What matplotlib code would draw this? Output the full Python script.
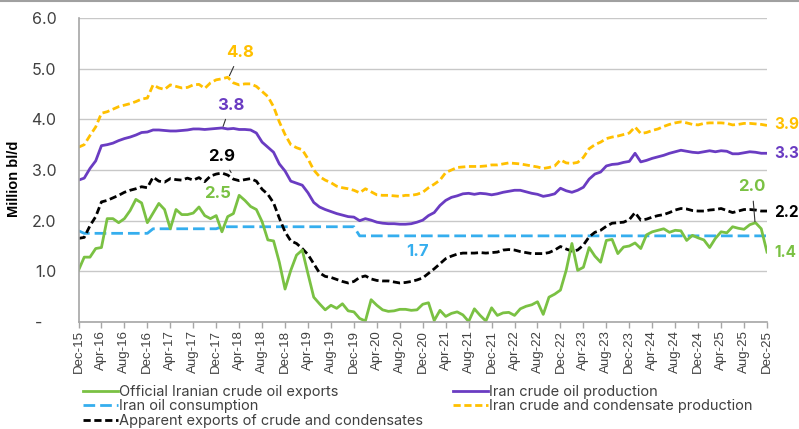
import numpy as np
import matplotlib
matplotlib.use('Agg')
import matplotlib.pyplot as plt
from matplotlib.lines import Line2D

plt.rcParams['font.family'] = ['Liberation Sans', 'DejaVu Sans']
SOFT = ['Inter', 'DejaVu Sans']

# monthly data, Dec-15 .. Dec-25 (million bl/d)
tick_labels = ['Dec-15', 'Apr-16', 'Aug-16', 'Dec-16', 'Apr-17', 'Aug-17', 'Dec-17', 'Apr-18',
               'Aug-18', 'Dec-18', 'Apr-19', 'Aug-19', 'Dec-19', 'Apr-20', 'Aug-20', 'Dec-20',
               'Apr-21', 'Aug-21', 'Dec-21', 'Apr-22', 'Aug-22', 'Dec-22', 'Apr-23', 'Aug-23',
               'Dec-23', 'Apr-24', 'Aug-24', 'Dec-24', 'Apr-25', 'Aug-25', 'Dec-25']

official_exports = [
    1.02, 1.28, 1.28, 1.45, 1.47, 2.04, 2.04, 1.96, 2.04, 2.20, 2.42, 2.35,
    1.96, 2.15, 2.34, 2.22, 1.84, 2.22, 2.12, 2.12, 2.15, 2.27, 2.10, 2.04,
    2.10, 1.78, 2.08, 2.14, 2.50, 2.40, 2.28, 2.22, 1.98, 1.62, 1.60, 1.18,
    0.65, 1.02, 1.32, 1.42, 0.95, 0.49, 0.36, 0.24, 0.33, 0.27, 0.36, 0.22,
    0.20, 0.07, 0.02, 0.44, 0.33, 0.24, 0.21, 0.22, 0.25, 0.25, 0.23, 0.24,
    0.35, 0.38, 0.03, 0.23, 0.11, 0.17, 0.20, 0.14, 0.01, 0.26, 0.13, 0.02,
    0.28, 0.13, 0.18, 0.19, 0.13, 0.26, 0.31, 0.34, 0.40, 0.15, 0.49, 0.55,
    0.63, 1.02, 1.55, 1.02, 1.08, 1.47, 1.30, 1.18, 1.61, 1.63, 1.35, 1.48,
    1.50, 1.56, 1.45, 1.72, 1.78, 1.81, 1.84, 1.77, 1.81, 1.80, 1.61, 1.71,
    1.66, 1.62, 1.47, 1.65, 1.78, 1.76, 1.88, 1.85, 1.83, 1.92, 1.96, 1.84,
    1.38]

crude_prod = [
    2.80, 2.84, 3.03, 3.18, 3.48, 3.50, 3.53, 3.58, 3.62, 3.65, 3.69, 3.74,
    3.75, 3.79, 3.79, 3.78, 3.77, 3.77, 3.78, 3.79, 3.81, 3.81, 3.80, 3.81,
    3.82, 3.83, 3.81, 3.82, 3.80, 3.80, 3.79, 3.73, 3.55, 3.45, 3.35, 3.12,
    2.98, 2.78, 2.74, 2.70, 2.55, 2.36, 2.27, 2.22, 2.18, 2.14, 2.11, 2.08,
    2.07, 2.00, 2.04, 2.01, 1.97, 1.95, 1.94, 1.94, 1.93, 1.93, 1.94, 1.97,
    2.01, 2.10, 2.16, 2.30, 2.40, 2.46, 2.49, 2.53, 2.54, 2.52, 2.54, 2.53,
    2.51, 2.53, 2.56, 2.58, 2.60, 2.60, 2.57, 2.54, 2.52, 2.48, 2.50, 2.53,
    2.64, 2.59, 2.56, 2.60, 2.66, 2.82, 2.92, 2.96, 3.08, 3.11, 3.12, 3.15,
    3.17, 3.33, 3.16, 3.19, 3.23, 3.26, 3.29, 3.33, 3.36, 3.39, 3.37, 3.35,
    3.34, 3.36, 3.38, 3.36, 3.38, 3.37, 3.32, 3.32, 3.34, 3.36, 3.35, 3.33,
    3.33]

consumption = [
    1.80, 1.75, 1.75, 1.75, 1.75, 1.75, 1.75, 1.75, 1.75, 1.75, 1.75, 1.75,
    1.75, 1.84, 1.84, 1.84, 1.84, 1.84, 1.84, 1.84, 1.84, 1.84, 1.84, 1.84,
    1.84, 1.88, 1.88, 1.88, 1.88, 1.88, 1.88, 1.88, 1.88, 1.88, 1.88, 1.88,
    1.88, 1.88, 1.88, 1.88, 1.88, 1.88, 1.88, 1.88, 1.88, 1.88, 1.88, 1.88,
    1.88, 1.70, 1.70, 1.70, 1.70, 1.70, 1.70, 1.70, 1.70, 1.70, 1.70, 1.70,
    1.70, 1.70, 1.70, 1.70, 1.70, 1.70, 1.70, 1.70, 1.70, 1.70, 1.70, 1.70,
    1.70, 1.70, 1.70, 1.70, 1.70, 1.70, 1.70, 1.70, 1.70, 1.70, 1.70, 1.70,
    1.70, 1.70, 1.70, 1.70, 1.70, 1.70, 1.70, 1.70, 1.70, 1.70, 1.70, 1.70,
    1.70, 1.70, 1.70, 1.70, 1.70, 1.70, 1.70, 1.70, 1.70, 1.70, 1.70, 1.70,
    1.70, 1.70, 1.70, 1.70, 1.70, 1.70, 1.70, 1.70, 1.70, 1.70, 1.70, 1.70,
    1.70]

crude_cond_prod = [
    3.45, 3.50, 3.68, 3.85, 4.12, 4.15, 4.20, 4.25, 4.28, 4.31, 4.35, 4.40,
    4.42, 4.68, 4.62, 4.59, 4.68, 4.65, 4.62, 4.63, 4.68, 4.69, 4.61, 4.72,
    4.78, 4.80, 4.83, 4.72, 4.68, 4.70, 4.70, 4.65, 4.55, 4.45, 4.25, 3.95,
    3.70, 3.50, 3.44, 3.40, 3.22, 3.00, 2.87, 2.80, 2.75, 2.68, 2.65, 2.63,
    2.60, 2.55, 2.63, 2.57, 2.51, 2.50, 2.50, 2.49, 2.48, 2.50, 2.50, 2.52,
    2.56, 2.65, 2.72, 2.80, 2.95, 3.00, 3.05, 3.06, 3.07, 3.07, 3.07, 3.08,
    3.10, 3.10, 3.12, 3.14, 3.13, 3.12, 3.10, 3.08, 3.06, 3.03, 3.05, 3.08,
    3.20, 3.14, 3.13, 3.15, 3.25, 3.42, 3.50, 3.55, 3.62, 3.65, 3.67, 3.70,
    3.73, 3.85, 3.72, 3.74, 3.78, 3.81, 3.86, 3.90, 3.93, 3.95, 3.93, 3.90,
    3.89, 3.92, 3.93, 3.93, 3.93, 3.92, 3.89, 3.90, 3.92, 3.92, 3.91, 3.90,
    3.88]

apparent_exports = [
    1.65, 1.67, 1.90, 2.08, 2.37, 2.40, 2.45, 2.50, 2.56, 2.60, 2.63, 2.67,
    2.65, 2.86, 2.78, 2.76, 2.83, 2.81, 2.80, 2.84, 2.80, 2.85, 2.77, 2.88,
    2.92, 2.94, 2.90, 2.82, 2.79, 2.81, 2.83, 2.78, 2.62, 2.52, 2.35, 2.05,
    1.78, 1.60, 1.55, 1.45, 1.33, 1.15, 0.97, 0.90, 0.88, 0.84, 0.80, 0.77,
    0.80, 0.88, 0.91, 0.85, 0.82, 0.81, 0.81, 0.79, 0.77, 0.78, 0.80, 0.83,
    0.87, 0.96, 1.05, 1.15, 1.25, 1.30, 1.34, 1.36, 1.36, 1.36, 1.37, 1.36,
    1.37, 1.38, 1.42, 1.43, 1.42, 1.39, 1.37, 1.35, 1.35, 1.35, 1.37, 1.42,
    1.49, 1.44, 1.40, 1.42, 1.52, 1.68, 1.77, 1.81, 1.89, 1.95, 1.96, 1.97,
    2.02, 2.16, 2.01, 2.03, 2.07, 2.10, 2.12, 2.16, 2.21, 2.24, 2.23, 2.20,
    2.19, 2.19, 2.21, 2.22, 2.24, 2.20, 2.16, 2.19, 2.22, 2.22, 2.21, 2.19,
    2.19]

GREEN = '#7AC143'
PURPLE = '#6A3CC2'
BLUE = '#35AEEE'
ORANGE = '#FFC000'
BLACK = '#000000'
GREY_TXT = '#404040'

x = np.arange(len(official_exports))

fig = plt.figure(figsize=(7.99, 4.29), dpi=100)
ax = fig.add_axes([78.5 / 799, 107 / 429, (767 - 78.5) / 799, 304 / 429])

l_cons, = ax.plot(x, consumption, color=BLUE, lw=2, dashes=(4.2, 1.8), label='Iran oil consumption')
l_cc, = ax.plot(x, crude_cond_prod, color=ORANGE, lw=2, dashes=(2.6, 1.3),
                label='Iran crude and condensate production')
l_prod, = ax.plot(x, crude_prod, color=PURPLE, lw=2, label='Iran crude oil production')
l_app, = ax.plot(x, apparent_exports, color=BLACK, lw=2, dashes=(2.6, 1.3),
                 label='Apparent exports of crude and condensates')
l_off, = ax.plot(x, official_exports, color=GREEN, lw=2, label='Official Iranian crude oil exports')

ax.set_xlim(0, 120)
ax.set_ylim(0, 6)
ax.set_yticks(np.arange(0, 7, 1.0))
ax.set_yticklabels(['-   ', '1.0', '2.0', '3.0', '4.0', '5.0', '6.0'], family=SOFT, fontsize=11.5)
ax.set_xticks(x[::4])
ax.set_xticklabels(tick_labels, rotation=90)

ax.tick_params(axis='y', length=0, pad=16, labelcolor=GREY_TXT)
ax.tick_params(axis='x', length=4, width=1, color='#A6A6A6', pad=2, labelsize=9.5, labelcolor=GREY_TXT)
ax.grid(axis='y', color='#C8C8C8', lw=1)
ax.set_axisbelow(True)
for s in ['top', 'right']:
    ax.spines[s].set_visible(False)
for s in ['left', 'bottom']:
    ax.spines[s].set_color('#A6A6A6')
    ax.spines[s].set_linewidth(1.2)

ax.set_ylabel('Million bl/d', fontsize=10.5, fontweight='bold')
ax.yaxis.set_label_coords(-0.083, 0.47)

# data labels
lab = dict(fontsize=12, fontweight='bold', ha='center', va='center', family=SOFT)
arrow = dict(arrowstyle='-', color='#333333', lw=0.8, shrinkA=3, shrinkB=0)
ax.annotate('4.8', xy=(26.3, 4.86), xytext=(28.2, 5.32), color=ORANGE, arrowprops=arrow, **lab)
ax.annotate('3.8', xy=(25.2, 3.86), xytext=(26.5, 4.28), color=PURPLE, arrowprops=arrow, **lab)
ax.annotate('2.9', xy=(26.6, 2.95), xytext=(24.9, 3.27), color=BLACK, arrowprops=arrow, **lab)
ax.text(24.3, 2.54, '2.5', color=GREEN, **lab)
ax.text(59.1, 1.40, '1.7', color=BLUE, **lab)
ax.annotate('2.0', xy=(117.9, 1.98), xytext=(117.4, 2.67), color=GREEN, arrowprops=arrow, **lab)

# end-of-line labels, squeezed against the right edge
end = dict(fontsize=11, fontweight='bold', ha='left', va='center', clip_on=False, family=SOFT)
ax.text(121.2, 3.89, '3.9', color=ORANGE, **end)
ax.text(121.2, 3.33, '3.3', color=PURPLE, **end)
ax.text(121.2, 2.17, '2.2', color=BLACK, **end)
ax.text(121.2, 1.38, '1.4', color=GREEN, **end)

# legend in two blocks like the original layout
leg_kw = dict(loc='upper left', frameon=False, handlelength=2.4, handletextpad=0.1,
              labelspacing=0.03, borderpad=0, borderaxespad=0, labelcolor=GREY_TXT,
              prop={'family': SOFT, 'size': 10.5})
leg1 = fig.legend(handles=[l_off, l_cons, l_app], bbox_to_anchor=(83 / 799, 1 - 385 / 429), **leg_kw)
leg2 = fig.legend(handles=[l_prod, l_cc], bbox_to_anchor=(453 / 799, 1 - 385 / 429), **leg_kw)

fig.add_artist(Line2D([0, 1], [0.998, 0.998], color='#A0A0A0', lw=1.5, transform=fig.transFigure))

fig.savefig('out.png', dpi=100)
